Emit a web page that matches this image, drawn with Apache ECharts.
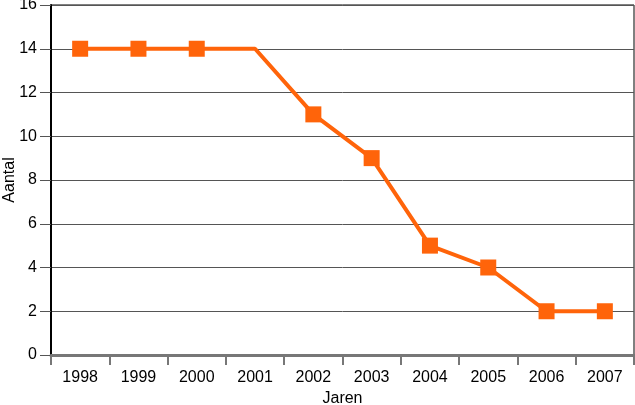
<!DOCTYPE html>
<html><head><meta charset="utf-8">
<script src="https://cdn.jsdelivr.net/npm/echarts@6/dist/echarts.min.js"></script>
<style>html,body{margin:0;padding:0;background:#fff}#c{width:635px;height:405px}</style>
</head><body><div id="c"></div>
<script>
const years = ['1998','1999','2000','2001','2002','2003','2004','2005','2006','2007'];
const counts = [14,14,14,14,11,9,5,4,2,2];
const noMarker = ['2001'];
const yTicks = [0,2,4,6,8,10,12,14,16];

const chart = echarts.init(document.getElementById('c'), null, {renderer:'canvas'});
const font = 'Liberation Sans';
chart.setOption({
  animation:false,
  grid:{left:51,right:1,top:5,bottom:50,outerBoundsMode:'none',containLabel:false,show:true,borderColor:'#000',borderWidth:1,backgroundColor:'transparent'},
  xAxis:{type:'category',data:years,boundaryGap:true,
    name:'Jaren',nameLocation:'middle',nameGap:36,nameMoveOverlap:false,
    nameTextStyle:{color:'#000',fontFamily:font,fontSize:16},
    axisLine:{lineStyle:{color:'#777',width:3}},
    axisTick:{show:true,interval:0,length:10,lineStyle:{color:'#777',width:2}},
    axisLabel:{color:'#000',fontFamily:font,fontSize:16,margin:15,interval:0}},
  yAxis:{type:'value',min:yTicks[0],max:yTicks[yTicks.length-1],interval:2,
    name:'Aantal',nameLocation:'middle',nameGap:33,nameMoveOverlap:false,
    nameTextStyle:{color:'#000',fontFamily:font,fontSize:16},
    axisLine:{show:true,lineStyle:{color:'#000',width:2}},
    axisTick:{show:true,length:11,lineStyle:{color:'#555',width:1}},
    axisLabel:{color:'#000',fontFamily:font,fontSize:16,margin:14},
    splitLine:{show:true,lineStyle:{color:'#555',width:1}}},
  series:[{type:'line',
    data:years.map((y,i)=> noMarker.includes(y) ? {value:counts[i],symbol:'none'} : counts[i]),
    symbol:'rect',symbolSize:16,
    lineStyle:{color:'#ff640a',width:4},
    itemStyle:{color:'#ff640a'}}]
});
</script></body></html>
